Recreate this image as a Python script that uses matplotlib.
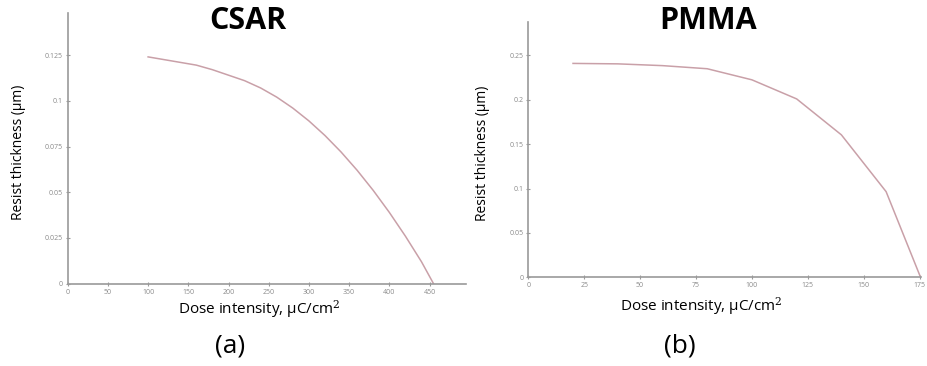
import matplotlib
matplotlib.use("Agg")
import matplotlib.pyplot as plt
from matplotlib.transforms import Bbox

# CSAR: dose (uC/cm^2) vs remaining resist thickness (um)
csar_dose = [100, 120, 140, 160, 180, 200, 220, 240, 260, 280,
             300, 320, 340, 360, 380, 400, 420, 440, 455]
csar_thick = [0.124, 0.1225, 0.121, 0.1195, 0.117, 0.114, 0.111, 0.107, 0.102, 0.096,
              0.089, 0.081, 0.072, 0.062, 0.051, 0.039, 0.026, 0.012, 0.0]

# PMMA
pmma_dose = [20, 40, 60, 80, 100, 120, 140, 160, 175.4]
pmma_thick = [0.241, 0.2405, 0.2385, 0.235, 0.2225, 0.201, 0.1605, 0.0965, 0.0]

csar_xticks = [0, 50, 100, 150, 200, 250, 300, 350, 400, 450, 500]
csar_yticks = [0, 0.025, 0.05, 0.075, 0.1, 0.125]
csar_ylabels = ["0", "0.025", "0.05", "0.075", "0.1", "0.125"]
pmma_xticks = [0, 25, 50, 75, 100, 125, 150, 175]
pmma_yticks = [0, 0.05, 0.1, 0.15, 0.2, 0.25]
pmma_ylabels = ["0", "0.05", "0.1", "0.15", "0.2", "0.25"]

LINE = "#c9a0a8"
AXC = "#9a9a9a"
TICKC = "#8a8a8a"
FONT = "Open Sans"

fig = plt.figure(figsize=(9.27, 3.66), dpi=100)
W, H = 927.0, 366.0


def px_axes(x0, x1, ytop, ybot):
    return fig.add_axes([x0 / W, (H - ybot) / H, (x1 - x0) / W, (ybot - ytop) / H])


def style(ax):
    for s in ("top", "right"):
        ax.spines[s].set_visible(False)
    for s in ("left", "bottom"):
        ax.spines[s].set_color(AXC)
        ax.spines[s].set_linewidth(1.2)
    ax.tick_params(direction="inout", length=3, width=0.8, color=AXC,
                   labelsize=5, labelcolor=TICKC, pad=2)
    for lbl in ax.get_xticklabels() + ax.get_yticklabels():
        lbl.set_fontfamily(FONT)


ax1 = px_axes(67.7, 465.7, 13, 283.7)
ax1.plot(csar_dose, csar_thick, color=LINE, lw=1.1)
ax1.set_xlim(0, 495)
ax1.set_ylim(0, 0.148)
ax1.set_xticks(csar_xticks)
ax1.set_yticks(csar_yticks)
ax1.set_yticklabels(csar_ylabels)
ax1.set_xlim(0, 495)
style(ax1)
# the "500" label is half hidden behind the right panel in the original
clip = Bbox.from_extents(0, 0, 466 / W * fig.bbox.width, fig.bbox.height)
for lbl in ax1.get_xticklabels():
    lbl.set_clip_on(True)
    lbl.set_clip_box(clip)

ax2 = px_axes(528.3, 921, 21.7, 277.3)
ax2.plot(pmma_dose, pmma_thick, color=LINE, lw=1.1)
ax2.set_xlim(0, 175.6)
ax2.set_ylim(0, 0.288)
ax2.set_xticks(pmma_xticks)
ax2.set_yticks(pmma_yticks)
ax2.set_yticklabels(pmma_ylabels)
ax2.set_xlim(0, 175.6)
style(ax2)

plt.rcParams["mathtext.fontset"] = "dejavuserif"


def ftext(x, y, s, **kw):
    fig.text(x / W, 1 - y / H, s, ha="center", va="center", family=FONT, **kw)


ftext(248, 21, "CSAR", fontsize=22, fontweight="bold")
ftext(708, 21, "PMMA", fontsize=22, fontweight="bold")
ftext(259, 309, "Dose intensity, μC/cm$^2$", fontsize=11)
ftext(701, 306, "Dose intensity, μC/cm$^2$", fontsize=11)
ftext(19, 152, "Resist thickness (μm)", fontsize=10, rotation=90)
ftext(482, 153, "Resist thickness (μm)", fontsize=10, rotation=90)
ftext(230, 346, "(a)", fontsize=19)
ftext(680, 346, "(b)", fontsize=19)

fig.savefig("out.png", dpi=100)
